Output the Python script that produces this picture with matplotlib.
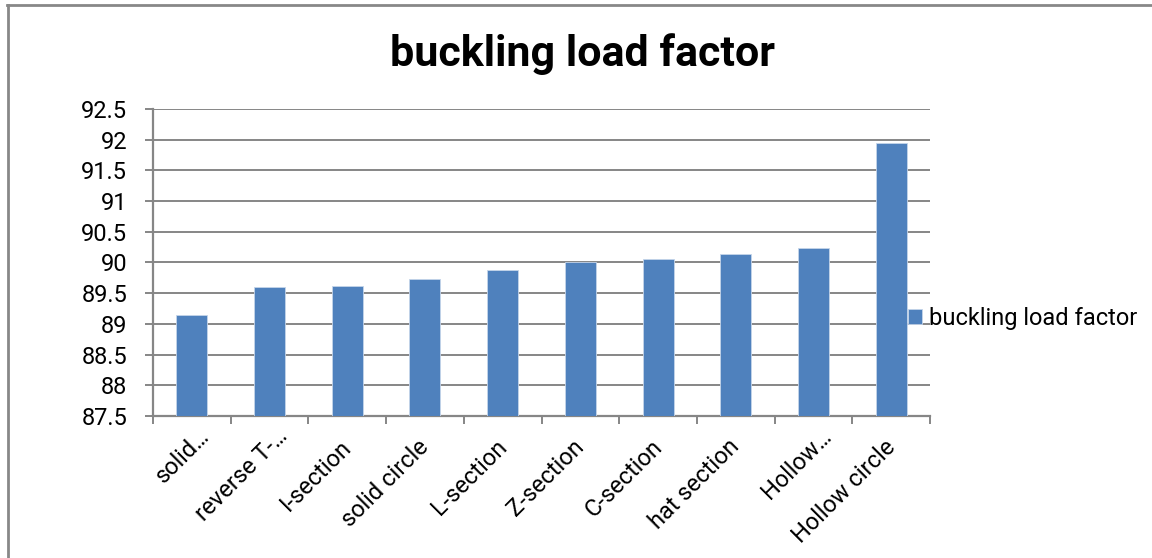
import matplotlib
matplotlib.use("Agg")
import matplotlib.pyplot as plt
from matplotlib.lines import Line2D
from matplotlib.transforms import ScaledTranslation
import numpy as np

categories = ["solid…", "reverse T-…", "I-section", "solid circle", "L-section",
              "Z-section", "C-section", "hat section", "Hollow…", "Hollow circle"]
values = [89.14, 89.60, 89.625, 89.73, 89.875, 90.0, 90.05, 90.14, 90.23, 91.94]
series_name = "buckling load factor"
yticks = [87.5, 88, 88.5, 89, 89.5, 90, 90.5, 91, 91.5, 92, 92.5]
ytick_labels = ["87.5", "88", "88.5", "89", "89.5", "90", "90.5", "91", "91.5", "92", "92.5"]

plt.rcParams['font.family'] = ['Roboto', 'DejaVu Sans']

W, H = 1152, 558
DPI = 100
fig = plt.figure(figsize=(W / DPI, H / DPI), dpi=DPI)
ax = fig.add_axes([153 / W, 1 - 416 / H, (930 - 153) / W, (416 - 109) / H])

grid_color = "#868686"
bar_color = "#4F81BD"

x = np.arange(len(categories))
bars = ax.bar(x, values, width=0.4, color=bar_color, zorder=3,
              edgecolor="#c5d5ea", linewidth=0.6, label=series_name)

ax.set_ylim(87.5, 92.5)
ax.set_xlim(-0.5, len(categories) - 0.5)
ax.set_yticks(yticks)
ax.set_yticklabels(ytick_labels, fontsize=17)
ax.yaxis.grid(True, color=grid_color, linewidth=1.4, zorder=0)
ax.set_axisbelow(True)

# x ticks at category boundaries
ax.set_xticks(np.arange(-0.5, len(categories), 1.0))
ax.set_xticklabels([])
ax.tick_params(axis="x", which="major", length=6, width=1.4, color=grid_color, direction="out")
ax.tick_params(axis="y", length=6, width=1.4, color=grid_color, pad=12.5)

# category labels, rotated 45 degrees, anchored at their right baseline end
for i, lab in enumerate(categories):
    truncated = lab.endswith("…")
    dx_px, y_px = (19, 437) if truncated else (5, 448)
    off = ScaledTranslation(dx_px / DPI, -(y_px - 416) / DPI, fig.dpi_scale_trans)
    ax.text(i, 0, lab, transform=ax.get_xaxis_transform() + off, rotation=45,
            rotation_mode="anchor", ha="right", va="baseline", fontsize=17,
            clip_on=False)

for s in ["top", "right"]:
    ax.spines[s].set_visible(False)
for s in ["left", "bottom"]:
    ax.spines[s].set_color(grid_color)
    ax.spines[s].set_linewidth(1.6)

fig.text(583 / W, 1 - 54 / H, "buckling load factor", ha="center", va="center",
         fontsize=31, fontweight="bold")

fig.legend(handles=[bars], labels=[series_name], loc="center left",
           bbox_to_anchor=(896 / W, 1 - 318 / H), frameon=False, fontsize=17,
           handlelength=0.6, handleheight=0.6, handletextpad=0.3, borderpad=0)

# chart-area border (top and left visible)
fig.add_artist(Line2D([7 / W, 1.0], [1 - 4.5 / H, 1 - 4.5 / H], color="#888888", linewidth=2,
                      transform=fig.transFigure))
fig.add_artist(Line2D([7.5 / W, 7.5 / W], [0.0, 1 - 4.5 / H], color="#888888", linewidth=2,
                      transform=fig.transFigure))

fig.savefig("out.png", dpi=DPI)
